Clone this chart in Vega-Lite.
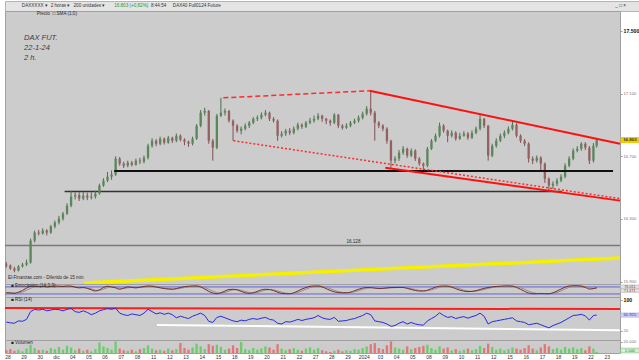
{
"$schema": "https://vega.github.io/schema/vega-lite/v6.json",
"background": "white",
"padding": 0,
"spacing": 0,
"bounds": "flush",
"config": {
  "view": {"fill": "#cccccc", "stroke": "#a0a0a0", "strokeWidth": 1},
  "font": "Liberation Sans",
  "axis": {"grid": false, "domain": false, "tickColor": "#999999", "tickSize": 2, "labelPadding": 1, "labelFont": "Liberation Sans", "labelOverlap": false, "labelSeparation": 0},
  "scale": {"continuousPadding": 0},
  "concat": {"spacing": 0}
},
"resolve": {"scale": {"x": "independent", "y": "independent", "color": "independent"}},
"datasets": {
  "bars": [
{"t":-0.1,"o":16010,"h":16025,"l":15990,"c":16003,"v":5000,"r":43,"s":30,"d":33},
{"t":0.15,"o":16003,"h":16010,"l":15975,"c":15984,"v":7000,"r":41,"s":28,"d":30},
{"t":0.4,"o":15984,"h":15995,"l":15960,"c":15971,"v":4000,"r":40,"s":25,"d":28},
{"t":0.65,"o":15971,"h":16005,"l":15965,"c":15997,"v":6000,"r":46,"s":35,"d":27},
{"t":0.9,"o":15997,"h":16020,"l":15990,"c":16009,"v":3000,"r":45,"s":50,"d":36},
{"t":1.15,"o":16009,"h":16040,"l":16000,"c":16022,"v":8000,"r":50,"s":70,"d":52},
{"t":1.4,"o":16022,"h":16175,"l":16015,"c":16162,"v":15000,"r":70,"s":85,"d":68},
{"t":1.65,"o":16162,"h":16225,"l":16150,"c":16213,"v":9000,"r":76,"s":88,"d":81},
{"t":1.9,"o":16213,"h":16230,"l":16195,"c":16207,"v":5000,"r":74,"s":82,"d":86},
{"t":2.15,"o":16207,"h":16240,"l":16200,"c":16226,"v":6000,"r":76,"s":85,"d":84},
{"t":2.4,"o":16226,"h":16235,"l":16195,"c":16213,"v":4000,"r":72,"s":80,"d":83},
{"t":2.65,"o":16213,"h":16262,"l":16205,"c":16252,"v":9000,"r":74,"s":84,"d":82},
{"t":2.9,"o":16252,"h":16290,"l":16240,"c":16277,"v":7000,"r":76,"s":88,"d":84},
{"t":3.15,"o":16277,"h":16320,"l":16265,"c":16302,"v":11000,"r":75,"s":86,"d":86},
{"t":3.4,"o":16302,"h":16345,"l":16290,"c":16334,"v":6000,"r":72,"s":84,"d":86},
{"t":3.65,"o":16334,"h":16400,"l":16325,"c":16385,"v":13000,"r":76,"s":88,"d":86},
{"t":3.9,"o":16385,"h":16480,"l":16375,"c":16443,"v":10000,"r":78,"s":86,"d":87},
{"t":4.15,"o":16443,"h":16470,"l":16425,"c":16452,"v":5000,"r":70,"s":78,"d":83},
{"t":4.4,"o":16452,"h":16470,"l":16415,"c":16430,"v":8000,"r":68,"s":72,"d":77},
{"t":4.65,"o":16430,"h":16472,"l":16420,"c":16449,"v":4000,"r":72,"s":75,"d":74},
{"t":4.9,"o":16449,"h":16468,"l":16420,"c":16436,"v":6000,"r":68,"s":68,"d":71},
{"t":5.15,"o":16436,"h":16470,"l":16425,"c":16443,"v":3000,"r":62,"s":55,"d":64},
{"t":5.4,"o":16443,"h":16480,"l":16430,"c":16462,"v":7000,"r":66,"s":45,"d":52},
{"t":5.65,"o":16462,"h":16525,"l":16455,"c":16513,"v":19000,"r":72,"s":55,"d":50},
{"t":5.9,"o":16513,"h":16560,"l":16505,"c":16545,"v":12000,"r":75,"s":75,"d":60},
{"t":6.15,"o":16545,"h":16600,"l":16535,"c":16570,"v":9000,"r":78,"s":86,"d":74},
{"t":6.4,"o":16570,"h":16610,"l":16550,"c":16583,"v":6000,"r":76,"s":80,"d":80},
{"t":6.65,"o":16583,"h":16700,"l":16575,"c":16685,"v":21000,"r":79,"s":72,"d":78},
{"t":6.9,"o":16685,"h":16695,"l":16640,"c":16653,"v":8000,"r":66,"s":60,"d":70},
{"t":7.15,"o":16653,"h":16665,"l":16625,"c":16640,"v":5000,"r":62,"s":70,"d":66},
{"t":7.4,"o":16640,"h":16672,"l":16630,"c":16659,"v":4000,"r":60,"s":80,"d":72},
{"t":7.65,"o":16659,"h":16670,"l":16635,"c":16646,"v":6000,"r":64,"s":76,"d":76},
{"t":7.9,"o":16646,"h":16685,"l":16640,"c":16672,"v":3000,"r":62,"s":72,"d":76},
{"t":8.15,"o":16672,"h":16690,"l":16650,"c":16666,"v":7000,"r":60,"s":78,"d":75},
{"t":8.4,"o":16666,"h":16705,"l":16655,"c":16691,"v":9000,"r":66,"s":84,"d":78},
{"t":8.65,"o":16691,"h":16780,"l":16680,"c":16767,"v":14000,"r":76,"s":88,"d":84},
{"t":8.9,"o":16767,"h":16815,"l":16755,"c":16799,"v":8000,"r":70,"s":86,"d":86},
{"t":9.15,"o":16799,"h":16810,"l":16765,"c":16780,"v":5000,"r":64,"s":80,"d":84},
{"t":9.4,"o":16780,"h":16825,"l":16770,"c":16812,"v":6000,"r":67,"s":72,"d":79},
{"t":9.65,"o":16812,"h":16820,"l":16775,"c":16787,"v":4000,"r":63,"s":66,"d":72},
{"t":9.9,"o":16787,"h":16830,"l":16780,"c":16818,"v":8000,"r":66,"s":62,"d":66},
{"t":10.15,"o":16818,"h":16825,"l":16785,"c":16799,"v":5000,"r":62,"s":60,"d":62},
{"t":10.4,"o":16799,"h":16845,"l":16790,"c":16831,"v":7000,"r":54,"s":66,"d":63},
{"t":10.65,"o":16831,"h":16840,"l":16795,"c":16806,"v":18000,"r":58,"s":75,"d":68},
{"t":10.9,"o":16806,"h":16815,"l":16770,"c":16793,"v":9000,"r":55,"s":82,"d":75},
{"t":11.15,"o":16793,"h":16800,"l":16760,"c":16780,"v":6000,"r":52,"s":86,"d":81},
{"t":11.4,"o":16780,"h":16825,"l":16770,"c":16812,"v":10000,"r":58,"s":88,"d":86},
{"t":11.65,"o":16812,"h":16905,"l":16805,"c":16895,"v":17000,"r":62,"s":88,"d":88},
{"t":11.9,"o":16895,"h":16995,"l":16885,"c":16978,"v":12000,"r":66,"s":80,"d":85},
{"t":12.15,"o":16978,"h":17010,"l":16960,"c":16990,"v":7000,"r":60,"s":62,"d":75},
{"t":12.4,"o":16990,"h":16995,"l":16780,"c":16799,"v":16000,"r":45,"s":42,"d":60},
{"t":12.65,"o":16799,"h":16810,"l":16672,"c":16755,"v":13000,"r":42,"s":28,"d":44},
{"t":12.9,"o":16755,"h":16970,"l":16745,"c":16959,"v":15000,"r":55,"s":22,"d":30},
{"t":13.15,"o":16959,"h":17073,"l":16950,"c":16978,"v":11000,"r":58,"s":30,"d":27},
{"t":13.4,"o":16978,"h":17005,"l":16960,"c":16990,"v":6000,"r":54,"s":45,"d":33},
{"t":13.65,"o":16990,"h":16995,"l":16915,"c":16927,"v":8000,"r":50,"s":58,"d":45},
{"t":13.9,"o":16927,"h":16935,"l":16799,"c":16895,"v":14000,"r":46,"s":60,"d":55},
{"t":14.15,"o":16895,"h":16905,"l":16850,"c":16863,"v":9000,"r":44,"s":55,"d":58},
{"t":14.4,"o":16863,"h":16890,"l":16840,"c":16876,"v":20000,"r":48,"s":42,"d":52},
{"t":14.65,"o":16876,"h":16910,"l":16865,"c":16895,"v":7000,"r":46,"s":30,"d":42},
{"t":14.9,"o":16895,"h":16925,"l":16880,"c":16914,"v":5000,"r":50,"s":25,"d":32},
{"t":15.15,"o":16914,"h":16950,"l":16905,"c":16939,"v":9000,"r":52,"s":30,"d":28},
{"t":15.4,"o":16939,"h":16960,"l":16925,"c":16946,"v":6000,"r":50,"s":42,"d":33},
{"t":15.65,"o":16946,"h":16980,"l":16935,"c":16965,"v":8000,"r":53,"s":55,"d":43},
{"t":15.9,"o":16965,"h":16995,"l":16955,"c":16978,"v":12000,"r":55,"s":60,"d":53},
{"t":16.15,"o":16978,"h":16985,"l":16925,"c":16939,"v":10000,"r":50,"s":58,"d":58},
{"t":16.4,"o":16939,"h":16950,"l":16915,"c":16927,"v":6000,"r":48,"s":48,"d":55},
{"t":16.65,"o":16927,"h":16935,"l":16799,"c":16831,"v":16000,"r":40,"s":35,"d":46},
{"t":16.9,"o":16831,"h":16860,"l":16820,"c":16844,"v":8000,"r":38,"s":25,"d":35},
{"t":17.15,"o":16844,"h":16875,"l":16830,"c":16863,"v":5000,"r":44,"s":22,"d":27},
{"t":17.4,"o":16863,"h":16880,"l":16835,"c":16850,"v":7000,"r":43,"s":22,"d":23},
{"t":17.65,"o":16850,"h":16890,"l":16840,"c":16876,"v":9000,"r":46,"s":30,"d":25},
{"t":17.9,"o":16876,"h":16915,"l":16865,"c":16901,"v":6000,"r":50,"s":45,"d":32},
{"t":18.15,"o":16901,"h":16910,"l":16875,"c":16889,"v":4000,"r":47,"s":62,"d":46},
{"t":18.4,"o":16889,"h":16925,"l":16880,"c":16914,"v":8000,"r":50,"s":75,"d":61},
{"t":18.65,"o":16914,"h":16945,"l":16905,"c":16927,"v":10000,"r":52,"s":85,"d":74},
{"t":18.9,"o":16927,"h":16960,"l":16915,"c":16939,"v":6000,"r":54,"s":88,"d":83},
{"t":19.15,"o":16939,"h":16975,"l":16930,"c":16959,"v":9000,"r":60,"s":88,"d":87},
{"t":19.4,"o":16959,"h":16965,"l":16920,"c":16939,"v":5000,"r":54,"s":80,"d":85},
{"t":19.65,"o":16939,"h":16945,"l":16905,"c":16927,"v":3000,"r":51,"s":65,"d":78},
{"t":19.9,"o":16927,"h":16935,"l":16895,"c":16914,"v":2000,"r":50,"s":50,"d":65},
{"t":20.15,"o":16914,"h":16975,"l":16905,"c":16965,"v":4000,"r":55,"s":38,"d":51},
{"t":20.4,"o":16965,"h":16970,"l":16880,"c":16895,"v":6000,"r":45,"s":32,"d":40},
{"t":20.65,"o":16895,"h":16905,"l":16870,"c":16882,"v":3000,"r":46,"s":30,"d":33},
{"t":20.9,"o":16882,"h":16910,"l":16875,"c":16895,"v":5000,"r":47,"s":30,"d":31},
{"t":21.15,"o":16895,"h":16925,"l":16885,"c":16914,"v":4000,"r":50,"s":35,"d":32},
{"t":21.4,"o":16914,"h":16940,"l":16905,"c":16927,"v":7000,"r":52,"s":48,"d":38},
{"t":21.65,"o":16927,"h":16960,"l":16915,"c":16946,"v":6000,"r":56,"s":60,"d":48},
{"t":21.9,"o":16946,"h":16985,"l":16935,"c":16971,"v":9000,"r":60,"s":70,"d":59},
{"t":22.15,"o":16971,"h":17020,"l":16960,"c":17003,"v":12000,"r":66,"s":75,"d":68},
{"t":22.4,"o":17003,"h":17118,"l":16960,"c":16978,"v":16000,"r":62,"s":74,"d":73},
{"t":22.65,"o":16978,"h":16990,"l":16799,"c":16914,"v":18000,"r":46,"s":70,"d":73},
{"t":22.9,"o":16914,"h":16925,"l":16880,"c":16895,"v":9000,"r":44,"s":66,"d":70},
{"t":23.15,"o":16895,"h":16905,"l":16860,"c":16876,"v":7000,"r":42,"s":68,"d":68},
{"t":23.4,"o":16876,"h":16885,"l":16780,"c":16799,"v":14000,"r":38,"s":72,"d":69},
{"t":23.65,"o":16799,"h":16805,"l":16627,"c":16672,"v":21000,"r":32,"s":75,"d":72},
{"t":23.9,"o":16672,"h":16700,"l":16655,"c":16685,"v":10000,"r":34,"s":75,"d":74},
{"t":24.15,"o":16685,"h":16740,"l":16670,"c":16723,"v":8000,"r":40,"s":76,"d":75},
{"t":24.4,"o":16723,"h":16765,"l":16710,"c":16748,"v":6000,"r":44,"s":75,"d":76},
{"t":24.65,"o":16748,"h":16755,"l":16690,"c":16704,"v":12000,"r":38,"s":68,"d":73},
{"t":24.9,"o":16704,"h":16750,"l":16695,"c":16736,"v":7000,"r":42,"s":58,"d":66},
{"t":25.15,"o":16736,"h":16745,"l":16670,"c":16685,"v":9000,"r":38,"s":50,"d":58},
{"t":25.4,"o":16685,"h":16695,"l":16640,"c":16653,"v":11000,"r":36,"s":45,"d":51},
{"t":25.65,"o":16653,"h":16660,"l":16608,"c":16640,"v":13000,"r":35,"s":45,"d":47},
{"t":25.9,"o":16640,"h":16760,"l":16630,"c":16748,"v":15000,"r":46,"s":52,"d":48},
{"t":26.15,"o":16748,"h":16810,"l":16740,"c":16799,"v":9000,"r":52,"s":65,"d":55},
{"t":26.4,"o":16799,"h":16845,"l":16790,"c":16831,"v":6000,"r":58,"s":78,"d":66},
{"t":26.65,"o":16831,"h":16915,"l":16820,"c":16895,"v":12000,"r":67,"s":86,"d":78},
{"t":26.9,"o":16895,"h":16905,"l":16850,"c":16863,"v":8000,"r":60,"s":88,"d":85},
{"t":27.15,"o":16863,"h":16870,"l":16790,"c":16831,"v":10000,"r":55,"s":86,"d":87},
{"t":27.4,"o":16831,"h":16865,"l":16820,"c":16850,"v":5000,"r":57,"s":78,"d":84},
{"t":27.65,"o":16850,"h":16860,"l":16800,"c":16812,"v":7000,"r":52,"s":65,"d":76},
{"t":27.9,"o":16812,"h":16850,"l":16805,"c":16831,"v":4000,"r":55,"s":52,"d":64},
{"t":28.15,"o":16831,"h":16860,"l":16825,"c":16844,"v":6000,"r":57,"s":44,"d":53},
{"t":28.4,"o":16844,"h":16855,"l":16805,"c":16818,"v":8000,"r":53,"s":40,"d":45},
{"t":28.65,"o":16818,"h":16865,"l":16810,"c":16850,"v":5000,"r":57,"s":42,"d":42},
{"t":28.9,"o":16850,"h":16890,"l":16840,"c":16876,"v":7000,"r":60,"s":48,"d":44},
{"t":29.15,"o":16876,"h":16971,"l":16865,"c":16939,"v":13000,"r":66,"s":58,"d":50},
{"t":29.4,"o":16939,"h":16945,"l":16880,"c":16895,"v":9000,"r":58,"s":68,"d":58},
{"t":29.65,"o":16895,"h":16900,"l":16672,"c":16704,"v":17000,"r":38,"s":75,"d":67},
{"t":29.9,"o":16704,"h":16780,"l":16695,"c":16767,"v":11000,"r":44,"s":80,"d":75},
{"t":30.15,"o":16767,"h":16815,"l":16755,"c":16799,"v":6000,"r":46,"s":84,"d":80},
{"t":30.4,"o":16799,"h":16845,"l":16790,"c":16831,"v":8000,"r":48,"s":86,"d":84},
{"t":30.65,"o":16831,"h":16865,"l":16815,"c":16850,"v":5000,"r":50,"s":88,"d":86},
{"t":30.9,"o":16850,"h":16890,"l":16840,"c":16876,"v":7000,"r":52,"s":88,"d":88},
{"t":31.15,"o":16876,"h":16927,"l":16865,"c":16901,"v":10000,"r":54,"s":86,"d":88},
{"t":31.4,"o":16901,"h":16910,"l":16820,"c":16831,"v":8000,"r":46,"s":76,"d":83},
{"t":31.65,"o":16831,"h":16840,"l":16785,"c":16799,"v":6000,"r":44,"s":60,"d":74},
{"t":31.9,"o":16799,"h":16810,"l":16765,"c":16780,"v":9000,"r":42,"s":42,"d":60},
{"t":32.15,"o":16780,"h":16790,"l":16660,"c":16685,"v":14000,"r":36,"s":28,"d":44},
{"t":32.4,"o":16685,"h":16700,"l":16650,"c":16672,"v":8000,"r":38,"s":22,"d":31},
{"t":32.65,"o":16672,"h":16705,"l":16660,"c":16691,"v":5000,"r":40,"s":22,"d":24},
{"t":32.9,"o":16691,"h":16700,"l":16608,"c":16653,"v":10000,"r":36,"s":24,"d":23},
{"t":33.15,"o":16653,"h":16660,"l":16530,"c":16557,"v":16000,"r":32,"s":22,"d":23},
{"t":33.4,"o":16557,"h":16565,"l":16474,"c":16513,"v":12000,"r":28,"s":22,"d":22},
{"t":33.65,"o":16513,"h":16540,"l":16490,"c":16525,"v":7000,"r":34,"s":30,"d":25},
{"t":33.9,"o":16525,"h":16560,"l":16510,"c":16545,"v":9000,"r":38,"s":45,"d":32},
{"t":34.15,"o":16545,"h":16585,"l":16535,"c":16570,"v":6000,"r":42,"s":62,"d":46},
{"t":34.4,"o":16570,"h":16655,"l":16560,"c":16640,"v":11000,"r":48,"s":78,"d":62},
{"t":34.65,"o":16640,"h":16700,"l":16630,"c":16685,"v":8000,"r":54,"s":88,"d":77},
{"t":34.9,"o":16685,"h":16750,"l":16675,"c":16736,"v":10000,"r":60,"s":90,"d":86},
{"t":35.15,"o":16736,"h":16765,"l":16725,"c":16748,"v":7000,"r":61,"s":90,"d":89},
{"t":35.4,"o":16748,"h":16790,"l":16735,"c":16780,"v":9000,"r":63,"s":86,"d":88},
{"t":35.65,"o":16780,"h":16790,"l":16740,"c":16755,"v":5000,"r":59,"s":76,"d":83},
{"t":35.9,"o":16755,"h":16765,"l":16650,"c":16672,"v":12000,"r":48,"s":62,"d":73},
{"t":36.15,"o":16672,"h":16785,"l":16660,"c":16767,"v":8000,"r":60,"s":66,"d":66},
{"t":36.35,"o":16767,"h":16815,"l":16755,"c":16803,"v":2000,"r":61,"s":74,"d":68}
  ],
  "lines": [
    {"id":"grey","t":-0.18,"p":16130},{"id":"grey","t":37.79,"p":16130},
    {"id":"yellow","t":4.7,"p":15892},{"id":"yellow","t":37.79,"p":16051},
    {"id":"black1","t":6.56,"p":16606},{"id":"black1","t":37.36,"p":16606},
    {"id":"black2","t":3.5,"p":16475},{"id":"black2","t":34.2,"p":16475},
    {"id":"dash","t":13.3,"p":17073},{"id":"dash","t":22.33,"p":17118},
    {"id":"upper","t":22.33,"p":17118},{"id":"upper","t":37.79,"p":16780},
    {"id":"dotted","t":13.93,"p":16799},{"id":"dotted","t":37.79,"p":16430},
    {"id":"lower","t":23.3,"p":16627},{"id":"lower","t":37.79,"p":16417}
  ],
  "days": [
    {"t":0,"lab":"28"},{"t":1,"lab":"29"},{"t":2,"lab":"30"},{"t":3,"lab":"dic"},{"t":4,"lab":"04"},{"t":5,"lab":"05"},{"t":6,"lab":"06"},{"t":7,"lab":"07"},{"t":8,"lab":"08"},{"t":9,"lab":"11"},
    {"t":10,"lab":"12"},{"t":11,"lab":"13"},{"t":12,"lab":"14"},{"t":13,"lab":"15"},{"t":14,"lab":"18"},{"t":15,"lab":"19"},{"t":16,"lab":"20"},{"t":17,"lab":"21"},{"t":18,"lab":"22"},{"t":19,"lab":"27"},
    {"t":20,"lab":"28"},{"t":21,"lab":"29"},{"t":22,"lab":"2024"},{"t":23,"lab":"03"},{"t":24,"lab":"04"},{"t":25,"lab":"05"},{"t":26,"lab":"08"},{"t":27,"lab":"09"},{"t":28,"lab":"10"},{"t":29,"lab":"11"},
    {"t":30,"lab":"12"},{"t":31,"lab":"15"},{"t":32,"lab":"16"},{"t":33,"lab":"17"},{"t":34,"lab":"18"},{"t":35,"lab":"19"},{"t":36,"lab":"22"},{"t":37,"lab":"23"}
  ]
},
"vconcat": [
  {
    "width": 639, "height": 10,
    "view": {"fill": "#e4e4e4", "stroke": "#b4b4b4"},
    "data": {"values": [
      {"t":0.86,"txt":"DAXXXXX ▾","k":"n"},
      {"t":2.64,"txt":"2 horas ▾","k":"n"},
      {"t":4.05,"txt":"200 unidades ▾","k":"g"},
      {"t":6.56,"txt":"16.803 (+0,82%)","k":"q"},
      {"t":8.83,"txt":"8:44:54","k":"n"},
      {"t":10.18,"txt":"DAX40 Full0124 Future","k":"g"},
      {"t":37.5,"txt":"_ □ ×","k":"g"}
    ]},
    "mark": {"type": "text", "align": "left", "baseline": "middle", "fontSize": 4.6, "font": "Liberation Sans Narrow, Liberation Sans"},
    "encoding": {
      "x": {"field": "t", "type": "quantitative", "scale": {"domain": [-0.18, 39.27], "nice": false, "zero": false, "padding": 0}, "axis": null},
      "y": {"datum": 0.5, "type": "quantitative", "scale": {"domain": [0, 1]}, "axis": null},
      "text": {"field": "txt"},
      "color": {"condition": {"test": "datum.k == 'q'", "value": "#22992a"}, "value": "#333333"},
      "fontWeight": {"condition": {"test": "datum.k == 'q'", "value": "bold"}, "value": "normal"}
    }
  },
  {
    "width": 615, "height": 273,
    "encoding": {"x": {"field": "t", "type": "quantitative", "scale": {"domain": [-0.18, 37.79], "nice": false, "zero": false, "padding": 0}, "axis": null}},
    "layer": [
      {"data": {"name": "lines"}, "transform": [{"filter": "datum.id == 'grey'"}],
       "mark": {"type": "line", "color": "#7a7a7a", "strokeWidth": 1.5},
       "encoding": {
         "y": {"field": "p", "type": "quantitative", "title": null, "scale": {"domain": [15885, 17627], "nice": false, "zero": false},
           "axis": {"orient": "right", "values": [15900,16000,16100,16200,16300,16400,16500,16600,16700,16800,16900,17000,17100,17200,17300,17400,17500,17600],
             "labelExpr": "replace(format(datum.value, ','), ',', '.')",
             "labelFontSize": {"condition": {"test": "datum.value % 500 == 0", "value": 5.2}, "value": 4.2},
             "labelFontWeight": {"condition": {"test": "datum.value % 500 == 0", "value": "bold"}, "value": "normal"},
             "labelColor": {"condition": {"test": "datum.value % 500 == 0", "value": "#111111"}, "value": "#777777"},
             "labelOverlap": false, "labelFlush": false}}
       }},
      {"data": {"name": "lines"}, "transform": [{"filter": "datum.id == 'yellow'"}],
       "mark": {"type": "line", "color": "#f4f000", "strokeWidth": 3.5},
       "encoding": {"y": {"field": "p", "type": "quantitative", "title": null}}},
      {"data": {"name": "lines"}, "transform": [{"filter": "datum.id == 'black2'"}],
       "mark": {"type": "line", "color": "#333333", "strokeWidth": 1.5},
       "encoding": {"y": {"field": "p", "type": "quantitative", "title": null}}},
      {"data": {"name": "bars"},
       "mark": {"type": "rule", "strokeWidth": 1},
       "encoding": {"y": {"field": "l", "type": "quantitative", "title": null}, "y2": {"field": "h"},
         "color": {"condition": {"test": "datum.c >= datum.o", "value": "#4d6e4d"}, "value": "#7e5252"}}},
      {"data": {"name": "bars"},
       "mark": {"type": "bar", "size": 2.3},
       "encoding": {"y": {"field": "o", "type": "quantitative", "title": null}, "y2": {"field": "c"},
         "color": {"condition": {"test": "datum.c >= datum.o", "value": "#5a875a"}, "value": "#946060"}}},
      {"data": {"name": "lines"}, "transform": [{"filter": "datum.id == 'black1'"}],
       "mark": {"type": "line", "color": "#111111", "strokeWidth": 2.2},
       "encoding": {"y": {"field": "p", "type": "quantitative", "title": null}}},
      {"data": {"name": "lines"}, "transform": [{"filter": "datum.id == 'dash'"}],
       "mark": {"type": "line", "color": "#ff2a2a", "strokeWidth": 1.5, "strokeDash": [5, 3]},
       "encoding": {"y": {"field": "p", "type": "quantitative", "title": null}}},
      {"data": {"name": "lines"}, "transform": [{"filter": "datum.id == 'upper'"}],
       "mark": {"type": "line", "color": "#ff1010", "strokeWidth": 2},
       "encoding": {"y": {"field": "p", "type": "quantitative", "title": null}}},
      {"data": {"name": "lines"}, "transform": [{"filter": "datum.id == 'dotted'"}],
       "mark": {"type": "line", "color": "#ff2a2a", "strokeWidth": 1.5, "strokeDash": [2, 2]},
       "encoding": {"y": {"field": "p", "type": "quantitative", "title": null}}},
      {"data": {"name": "lines"}, "transform": [{"filter": "datum.id == 'lower'"}],
       "mark": {"type": "line", "color": "#ff1010", "strokeWidth": 2},
       "encoding": {"y": {"field": "p", "type": "quantitative", "title": null}}},
      {"data": {"values": [{"t":1.0,"p":17455,"txt":"DAX FUT."},{"t":1.0,"p":17392,"txt":"22-1-24"},{"t":1.0,"p":17328,"txt":"2 h."}]},
       "mark": {"type": "text", "align": "left", "baseline": "middle", "fontSize": 7.5, "fontStyle": "italic", "color": "#3a3a3a"},
       "encoding": {"y": {"field": "p", "type": "quantitative", "title": null}, "text": {"field": "txt"}}},
      {"data": {"values": [{"t":1.78,"p":17608,"txt":"Precio"},{"t":2.75,"p":17608,"txt":"□ SMA (1;0)"},{"t":0.0,"p":15924,"txt":"El-Finanzas.com - Diferido de 15 min"},{"t":20.9,"p":16155,"txt":"16.128"}]},
       "mark": {"type": "text", "align": "left", "baseline": "middle", "fontSize": 4.6, "color": "#2a2a2a", "font": "Liberation Sans Narrow, Liberation Sans"},
       "encoding": {"y": {"field": "p", "type": "quantitative", "title": null}, "text": {"field": "txt"}}},
      {"data": {"values": [{"t":37.83,"t2":38.98,"p":16784,"p2":16823}]},
       "mark": {"type": "rect", "color": "#ecd000"},
       "encoding": {"x2": {"field": "t2"}, "y": {"field": "p", "type": "quantitative", "title": null}, "y2": {"field": "p2"}}},
      {"data": {"values": [{"t":38.4,"p":16803,"txt":"16.803"}]},
       "mark": {"type": "text", "align": "center", "baseline": "middle", "fontSize": 4.4, "fontWeight": "bold", "color": "#333333"},
       "encoding": {"y": {"field": "p", "type": "quantitative", "title": null}, "text": {"field": "txt"}}}
    ]
  },
  {
    "width": 615, "height": 13,
    "encoding": {"x": {"field": "t", "type": "quantitative", "scale": {"domain": [-0.18, 37.79], "nice": false, "zero": false, "padding": 0}, "axis": null}},
    "layer": [
      {"data": {"values": [{"t":-0.18,"s":80,"g":"a"},{"t":37.79,"s":80,"g":"a"},{"t":-0.18,"s":20,"g":"b"},{"t":37.79,"s":20,"g":"b"}]},
       "mark": {"type": "line", "color": "#6464dc", "strokeWidth": 1},
       "encoding": {"y": {"field": "s", "type": "quantitative", "title": null, "scale": {"domain": [-6, 105], "nice": false, "zero": false}, "axis": null}, "detail": {"field": "g"}}},
      {"data": {"name": "bars"},
       "mark": {"type": "line", "color": "#a08888", "strokeWidth": 1},
       "encoding": {"y": {"field": "d", "type": "quantitative", "title": null}}},
      {"data": {"name": "bars"},
       "mark": {"type": "line", "color": "#6e3030", "strokeWidth": 1, "interpolate": "monotone"},
       "encoding": {"y": {"field": "s", "type": "quantitative", "title": null}}},
      {"data": {"values": [{"t":0.2,"s":84,"txt":"■ Estocástico (14-3-3)"}]},
       "mark": {"type": "text", "align": "left", "baseline": "middle", "fontSize": 4.5, "color": "#222222", "font": "Liberation Sans Narrow, Liberation Sans"},
       "encoding": {"y": {"field": "s", "type": "quantitative", "title": null}, "text": {"field": "txt"}}},
      {"data": {"values": [{"t":37.83,"t2":38.98,"s":64,"s2":97},{"t":37.83,"t2":38.98,"s":33,"s2":63}]},
       "mark": {"type": "rect", "color": "#e2e2e2", "stroke": "#b0b0b0", "strokeWidth": 0.5},
       "encoding": {"x2": {"field": "t2"}, "y": {"field": "s", "type": "quantitative", "title": null}, "y2": {"field": "s2"}}},
      {"data": {"values": [{"t":38.4,"s":80.5,"txt":"76.011","k":"a"},{"t":38.4,"s":48,"txt":"71.471","k":"b"}]},
       "mark": {"type": "text", "align": "center", "baseline": "middle", "fontSize": 3.8},
       "encoding": {"y": {"field": "s", "type": "quantitative", "title": null}, "text": {"field": "txt"},
         "color": {"condition": {"test": "datum.k == 'b'", "value": "#d03030"}, "value": "#555555"}}}
    ]
  },
  {
    "width": 615, "height": 43,
    "encoding": {"x": {"field": "t", "type": "quantitative", "scale": {"domain": [-0.18, 37.79], "nice": false, "zero": false, "padding": 0}, "axis": null}},
    "layer": [
      {"data": {"values": [{"t":-0.18,"r":79.5},{"t":37.79,"r":76.5}]},
       "mark": {"type": "line", "color": "#ff1e1e", "strokeWidth": 2},
       "encoding": {
         "y": {"field": "r", "type": "quantitative", "title": null, "scale": {"domain": [-3.3, 107.7], "nice": false, "zero": false},
           "axis": {"orient": "right", "values": [20, 40, 60, 80, 100],
             "labelFontSize": {"condition": {"test": "datum.value == 100", "value": 5.2}, "value": 4.2},
             "labelFontWeight": {"condition": {"test": "datum.value == 100", "value": "bold"}, "value": "normal"},
             "labelColor": {"condition": {"test": "datum.value == 100", "value": "#111111"}, "value": "#777777"},
             "labelOverlap": false, "labelFlush": false}}}},
      {"data": {"values": [{"t":9.2,"r":35.5},{"t":37.79,"r":21.8}]},
       "mark": {"type": "line", "color": "#ffffff", "strokeWidth": 2},
       "encoding": {"y": {"field": "r", "type": "quantitative", "title": null}}},
      {"data": {"name": "bars"},
       "mark": {"type": "line", "color": "#2828e8", "strokeWidth": 1},
       "encoding": {"y": {"field": "r", "type": "quantitative", "title": null}}},
      {"data": {"values": [{"t":0.2,"r":100,"txt":"■ RSI (14)"}]},
       "mark": {"type": "text", "align": "left", "baseline": "middle", "fontSize": 4.5, "color": "#222222", "font": "Liberation Sans Narrow, Liberation Sans"},
       "encoding": {"y": {"field": "r", "type": "quantitative", "title": null}, "text": {"field": "txt"}}},
      {"data": {"values": [{"t":37.83,"t2":38.98,"r":55.5,"r2":66.5}]},
       "mark": {"type": "rect", "color": "#d4d4f4", "stroke": "#9a9ad8", "strokeWidth": 0.5},
       "encoding": {"x2": {"field": "t2"}, "y": {"field": "r", "type": "quantitative", "title": null}, "y2": {"field": "r2"}}},
      {"data": {"values": [{"t":38.4,"r":61,"txt":"60.920"}]},
       "mark": {"type": "text", "align": "center", "baseline": "middle", "fontSize": 4.2, "color": "#2a2ab0"},
       "encoding": {"y": {"field": "r", "type": "quantitative", "title": null}, "text": {"field": "txt"}}}
    ]
  },
  {
    "width": 615, "height": 13,
    "encoding": {"x": {"field": "t", "type": "quantitative", "scale": {"domain": [-0.18, 37.79], "nice": false, "zero": false, "padding": 0}, "axis": null}},
    "layer": [
      {"data": {"name": "bars"},
       "mark": {"type": "bar", "size": 2.3},
       "encoding": {
         "y": {"field": "v", "type": "quantitative", "title": null, "scale": {"domain": [0, 23600], "nice": false},
           "axis": {"orient": "right", "values": [20000], "labelExpr": "'20.000'", "labelFontSize": 4.2, "labelColor": "#777777"}},
         "color": {"condition": {"test": "datum.c >= datum.o", "value": "#6ccc6c"}, "value": "#e07676"}
       }},
      {"data": {"name": "days"},
       "mark": {"type": "text", "align": "center", "baseline": "top", "dy": 1.5, "fontSize": 5, "color": "#333333"},
       "encoding": {"y": {"datum": 0, "type": "quantitative"}, "text": {"field": "lab"},
         "fontWeight": {"condition": {"test": "datum.lab == 'dic' || datum.lab == '2024'", "value": "bold"}, "value": "normal"}}},
      {"data": {"values": [{"t":0.2,"v":18500,"txt":"■ Volumen"}]},
       "mark": {"type": "text", "align": "left", "baseline": "middle", "fontSize": 4.5, "color": "#222222", "font": "Liberation Sans Narrow, Liberation Sans"},
       "encoding": {"y": {"field": "v", "type": "quantitative", "title": null}, "text": {"field": "txt"}}},
      {"data": {"values": [{"t":37.83,"t2":38.98,"v":300,"v2":8800}]},
       "mark": {"type": "rect", "color": "#d6f0d6", "stroke": "#60b060", "strokeWidth": 0.5},
       "encoding": {"x2": {"field": "t2"}, "y": {"field": "v", "type": "quantitative", "title": null}, "y2": {"field": "v2"}}},
      {"data": {"values": [{"t":38.4,"v":4500,"txt":"1.040"}]},
       "mark": {"type": "text", "align": "center", "baseline": "middle", "fontSize": 4.2, "color": "#2a8a2a"},
       "encoding": {"y": {"field": "v", "type": "quantitative", "title": null}, "text": {"field": "txt"}}}
    ]
  }
]
}
